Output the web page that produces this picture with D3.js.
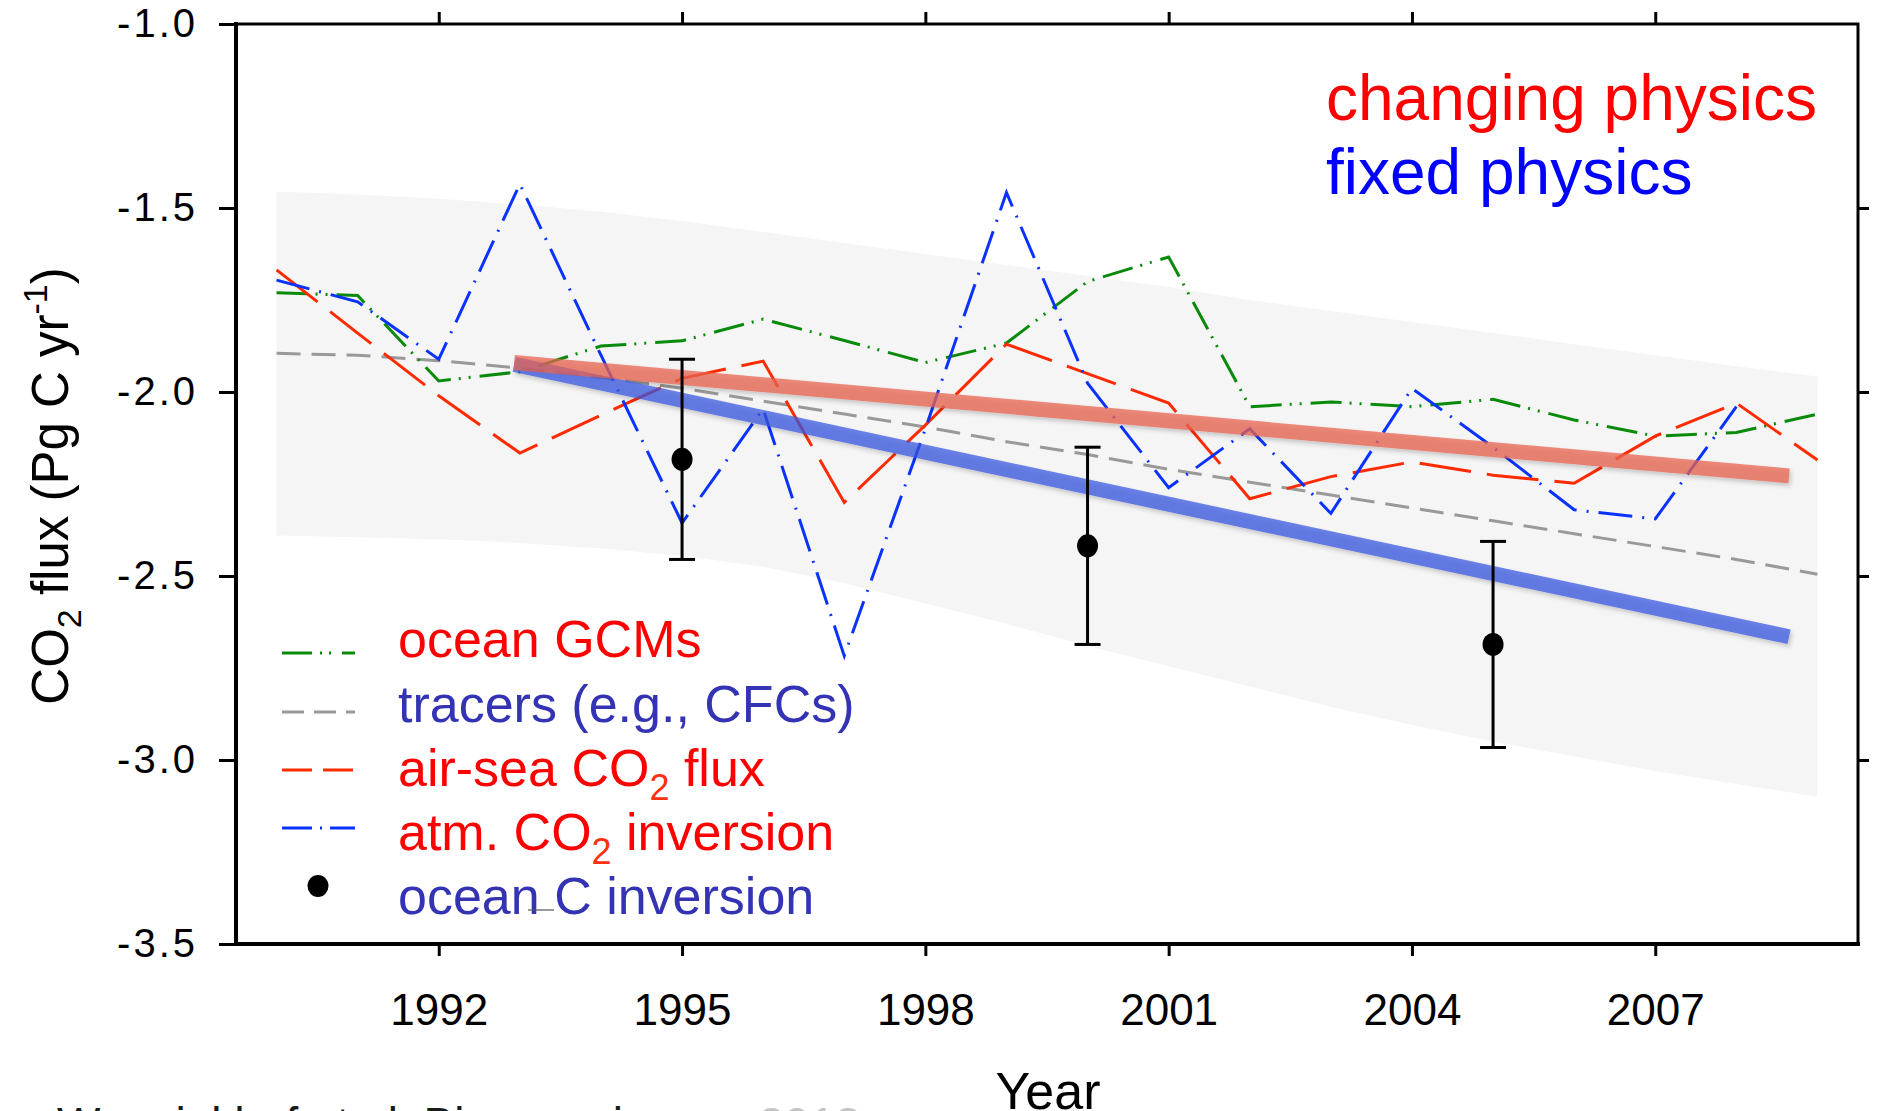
<!DOCTYPE html>
<html>
<head>
<meta charset="utf-8">
<script src="https://cdn.jsdelivr.net/npm/d3@7/dist/d3.min.js"></script>
<style>
  html, body { margin: 0; padding: 0; background: #fff; }
  svg { display: block; }
  text { font-family: "Liberation Sans", Arial, Helvetica, sans-serif; }
</style>
</head>
<body>
<svg id="chart" width="1878" height="1111"></svg>
<script>
// ---- data -------------------------------------------------------------
const years = [1990, 1991, 1992, 1993, 1994, 1995, 1996, 1997, 1998, 1999,
               2000, 2001, 2002, 2003, 2004, 2005, 2006, 2007, 2008, 2009];

// ocean GCMs (Pg C / yr)
const oceanGCMs = [-1.73, -1.738, -1.97, -1.945, -1.875, -1.861, -1.802, -1.86, -1.92, -1.867,
                   -1.70, -1.633, -2.04, -2.027, -2.04, -2.02, -2.076, -2.12, -2.11, -2.06];
// tracer-based estimate (CFCs)
const tracers = [-1.895, -1.90, -1.915, -1.935, -1.96, -1.99, -2.025, -2.06, -2.095, -2.135,
                 -2.17, -2.21, -2.245, -2.28, -2.315, -2.35, -2.385, -2.42, -2.455, -2.495];
// air-sea CO2 flux climatology-based estimate
const airSeaFlux = [-1.668, -1.84, -2.01, -2.166, -2.063, -1.963, -1.916, -2.30, -2.09, -1.87,
                    -1.95, -2.03, -2.29, -2.23, -2.19, -2.226, -2.248, -2.12, -2.03, -2.185];
// atmospheric CO2 inversion (no value for 2009)
const atmInversion = [-1.696, -1.755, -1.911, -1.435, -1.90, -2.356, -2.046, -2.717, -2.10, -1.458,
                      -1.976, -2.26, -2.10, -2.33, -1.99, -2.15, -2.32, -2.345, -2.04, null];
// uncertainty envelope
const bandUpper = [-1.455, -1.463, -1.475, -1.49, -1.51, -1.535, -1.565, -1.595, -1.625, -1.655,
                   -1.685, -1.715, -1.75, -1.78, -1.81, -1.84, -1.87, -1.90, -1.93, -1.958];
const bandLower = [-2.39, -2.395, -2.40, -2.41, -2.425, -2.445, -2.475, -2.52, -2.575, -2.63,
                   -2.69, -2.745, -2.80, -2.855, -2.905, -2.95, -2.99, -3.03, -3.065, -3.10];

// trend lines
const trendYears = [1992.93, 2008.65];
const changingPhysics = [-1.92, -2.228];
const fixedPhysics = [-1.925, -2.665];

// ocean C inversion with error bars
const invYears = [1995, 2000, 2005];
const invMean = [-2.183, -2.418, -2.686];
const invErr = [0.272, 0.268, 0.28];

// axis ticks
const xTicks = [1992, 1995, 1998, 2001, 2004, 2007];
const yTicks = [-1.0, -1.5, -2.0, -2.5, -3.0, -3.5];
const yInnerTicks = [-1.5, -2.0, -2.5, -3.0];

// ---- layout -----------------------------------------------------------
const svg = d3.select("#chart");
const x = d3.scaleLinear().domain([1989.5, 2009.5]).range([236, 1858]);
const y = d3.scaleLinear().domain([-3.5, -1.0]).range([944, 24]);

const defs = svg.append("defs");
const shadow = defs.append("filter").attr("id", "soft-shadow")
  .attr("x", "-5%").attr("y", "-50%").attr("width", "110%").attr("height", "200%");
shadow.append("feDropShadow").attr("dx", 2).attr("dy", 3)
  .attr("stdDeviation", 2).attr("flood-color", "#000").attr("flood-opacity", 0.25);

// envelope
const band = d3.area()
  .x((d, i) => x(years[i]))
  .y0((d, i) => y(bandLower[i]))
  .y1((d, i) => y(bandUpper[i]));
svg.append("path").datum(years).attr("d", band).attr("fill", "#f5f5f5");

// thin series
function seriesLine(values) {
  return d3.line()
    .defined((d, i) => values[i] !== null)
    .x((d, i) => x(years[i]))
    .y((d, i) => y(values[i]))(years);
}
const thin = [
  { v: tracers,      color: "#999999", dash: "24,11" },
  { v: oceanGCMs,    color: "#0a8a0a", dash: "31,8,2,8,2,9" },
  { v: airSeaFlux,   color: "#ff2a00", dash: "52,16" },
  { v: atmInversion, color: "#0a32ff", dash: "34,10,2,10" }
];
thin.forEach(s => {
  svg.append("path").attr("d", seriesLine(s.v))
    .attr("fill", "none").attr("stroke", s.color).attr("stroke-width", 3)
    .attr("stroke-dasharray", s.dash).attr("stroke-linejoin", "miter");
});

// thick trend lines
const trend = vals => d3.line().x((d, i) => x(trendYears[i])).y((d, i) => y(vals[i]))(trendYears);
const trendGroup = svg.append("g").attr("filter", "url(#soft-shadow)");
trendGroup.append("path").attr("d", trend(fixedPhysics))
  .attr("fill", "none").attr("stroke", "rgb(55,85,225)").attr("stroke-opacity", 0.72)
  .attr("stroke-width", 15).attr("stroke-linecap", "butt");
trendGroup.append("path").attr("d", trend(changingPhysics))
  .attr("fill", "none").attr("stroke", "rgb(232,100,80)").attr("stroke-opacity", 0.74)
  .attr("stroke-width", 15).attr("stroke-linecap", "butt");

// ocean C inversion: error bars and points
const inv = svg.append("g");
invYears.forEach((yr, i) => {
  const cx = x(yr), top = y(invMean[i] + invErr[i]), bot = y(invMean[i] - invErr[i]);
  inv.append("line").attr("x1", cx).attr("x2", cx).attr("y1", top).attr("y2", bot)
    .attr("stroke", "#000").attr("stroke-width", 3);
  [top, bot].forEach(yy => inv.append("line")
    .attr("x1", cx - 13).attr("x2", cx + 13).attr("y1", yy).attr("y2", yy)
    .attr("stroke", "#000").attr("stroke-width", 3));
  inv.append("ellipse").attr("cx", cx).attr("cy", y(invMean[i]))
    .attr("rx", 10.5).attr("ry", 11.5).attr("fill", "#000");
});

// ---- axes & frame -----------------------------------------------------
const fmtY = d => d.toFixed(1);
const gB = svg.append("g").attr("transform", "translate(0,944)")
  .call(d3.axisBottom(x).tickValues(xTicks).tickSize(12).tickPadding(38).tickFormat(d3.format("d")));
const gT = svg.append("g").attr("transform", "translate(0,24)")
  .call(d3.axisTop(x).tickValues(xTicks).tickSize(12).tickFormat(""));
const gL = svg.append("g").attr("transform", "translate(236,0)")
  .call(d3.axisLeft(y).tickValues(yTicks).tickSize(17).tickPadding(21).tickFormat(fmtY));
const gR = svg.append("g").attr("transform", "translate(1858,0)")
  .call(d3.axisRight(y).tickValues(yInnerTicks).tickSize(11).tickFormat(""));
[gB, gT, gL, gR].forEach(g => {
  g.select(".domain").remove();
  g.selectAll(".tick line").attr("stroke", "#000").attr("stroke-width", 3);
});
gB.selectAll(".tick text").attr("font-size", 44).attr("fill", "#000")
  .style("font-family", "'Liberation Sans', Arial, sans-serif");
gL.selectAll(".tick text").attr("font-size", 40).attr("fill", "#000")
  .attr("letter-spacing", 3)
  .style("font-family", "'Liberation Sans', Arial, sans-serif");

svg.append("rect").attr("x", 236).attr("y", 24).attr("width", 1622).attr("height", 920)
  .attr("fill", "none").attr("stroke", "#000").attr("stroke-width", 3);
svg.append("line").attr("x1", 236).attr("x2", 236).attr("y1", 22).attr("y2", 946)
  .attr("stroke", "#000").attr("stroke-width", 4);
svg.append("line").attr("x1", 234).attr("x2", 1860).attr("y1", 944).attr("y2", 944)
  .attr("stroke", "#000").attr("stroke-width", 4);

// axis titles
const yTitle = svg.append("text")
  .attr("transform", "translate(68,486) rotate(-90)")
  .attr("text-anchor", "middle").attr("font-size", 51).attr("fill", "#000");
yTitle.append("tspan").text("CO");
yTitle.append("tspan").attr("font-size", 34).attr("dy", 13).text("2");
yTitle.append("tspan").attr("dy", -13).text(" flux (Pg C yr");
yTitle.append("tspan").attr("font-size", 34).attr("dy", -21).text("-1");
yTitle.append("tspan").attr("dy", 21).text(")");

svg.append("text").attr("x", 1048).attr("y", 1109).attr("text-anchor", "middle")
  .attr("font-size", 52).attr("fill", "#000").text("Year");

// source line along the bottom edge
const src = svg.append("text").attr("x", 57).attr("y", 1140).attr("font-size", 46).attr("fill", "#1a1a1a");
src.append("tspan").text("Wanninkhof et al. Biogeosciences ");
src.append("tspan").attr("fill", "#c4c4c4").text("2013");

// ---- annotations --------------------------------------------------------
svg.append("text").attr("x", 1326).attr("y", 120).attr("font-size", 64)
  .attr("fill", "#ff0000").text("changing physics");
svg.append("text").attr("x", 1326).attr("y", 194).attr("font-size", 64)
  .attr("fill", "#0000ff").text("fixed physics");

// ---- legend -----------------------------------------------------------
const legendSamples = [
  { y: 653, color: "#0a8a0a", dash: "30,8,2,7,2,11" },
  { y: 712, color: "#999999", dash: "22,10" },
  { y: 770, color: "#ff2a00", dash: "30,11" },
  { y: 828, color: "#0a32ff", dash: "30,8,2,8" }
];
legendSamples.forEach(s => svg.append("line")
  .attr("x1", 282).attr("x2", 355).attr("y1", s.y).attr("y2", s.y)
  .attr("stroke", s.color).attr("stroke-width", 3).attr("stroke-dasharray", s.dash));
svg.append("ellipse").attr("cx", 318).attr("cy", 886).attr("rx", 10.5).attr("ry", 11)
  .attr("fill", "#000");

const red = "#ff0000", navy = "#3333b4", sub = "#ff3010";
const legendText = [
  { y: 657,   parts: [["ocean GCMs", red]] },
  { y: 721.5, parts: [["tracers (e.g., CFCs)", navy]] },
  { y: 785.5, parts: [["air-sea CO", red], ["2", sub, true], [" flux", red]] },
  { y: 849.5, parts: [["atm. CO", red], ["2", sub, true], [" inversion", red]] },
  { y: 913.5, parts: [["ocean C inversion", navy]] }
];
legendText.forEach(e => {
  const t = svg.append("text").attr("x", 398).attr("y", e.y).attr("font-size", 52);
  let shifted = false;
  e.parts.forEach(([txt, col, isSub]) => {
    const ts = t.append("tspan").attr("fill", col).text(txt);
    if (isSub) { ts.attr("font-size", 36).attr("dy", 14); shifted = true; }
    else if (shifted) { ts.attr("dy", -14); shifted = false; }
  });
});
// short underscore mark between "ocean" and "C"
svg.append("line").attr("x1", 528).attr("x2", 554).attr("y1", 910).attr("y2", 910)
  .attr("stroke", "#555").attr("stroke-width", 1.2);
</script>
</body>
</html>
